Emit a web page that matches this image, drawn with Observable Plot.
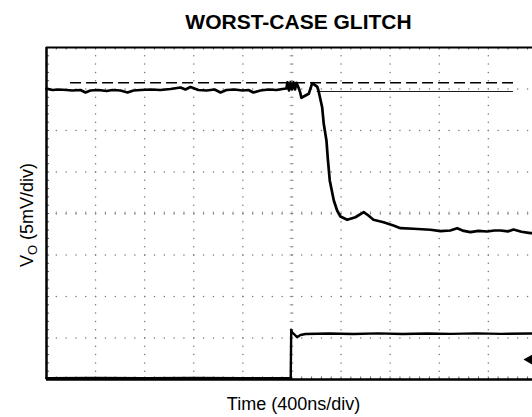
<!DOCTYPE html>
<html><head><meta charset="utf-8">
<script src="https://cdn.jsdelivr.net/npm/d3@7"></script>
<script src="https://cdn.jsdelivr.net/npm/@observablehq/plot@0.6"></script>
<style>body{margin:0;background:#fff;} svg{display:block;}</style>
</head><body><div id="chart"></div>
<script>
// ---- text ----
const title = "WORST-CASE GLITCH";
const xLabel = "Time (400ns/div)";
const yLabelMain = "V", yLabelSub = "O", yLabelRest = " (5mV/div)";

// ---- scope scale ----
const nsPerDiv = 400;   // time per division
const mvPerDiv = 5;     // volts per division
const xDivCount = 10;
const yDivCount = 8;

// ---- output trace (time ns, mV relative to screen centre) ----
const outT = [0, 49, 98, 163, 212, 277, 318, 358, 423, 489, 538, 603, 660, 709, 766, 847, 929, 1010, 1092, 1132, 1173, 1238, 1304, 1369, 1418, 1466, 1532, 1597, 1646, 1686, 1743, 1808, 1874, 1923, 1955, 1963, 1976, 1988, 2000, 2012, 2025, 2037, 2053, 2065, 2077, 2110, 2137, 2165, 2205, 2216, 2246, 2259, 2281, 2292, 2308, 2341, 2368, 2395, 2450, 2517, 2585, 2623, 2664, 2746, 2827, 2884, 2990, 3128, 3210, 3290, 3346, 3400, 3454, 3520, 3590, 3650, 3699, 3760, 3805, 3870, 3943, 3960];
const outV = [15.04, 14.88, 14.94, 14.88, 14.82, 14.88, 14.58, 14.82, 14.88, 14.76, 14.88, 14.82, 14.58, 14.82, 14.88, 14.94, 14.88, 15.00, 15.18, 14.94, 15.24, 14.88, 14.82, 14.94, 14.58, 14.88, 14.94, 14.82, 14.88, 14.58, 14.82, 14.94, 14.88, 15.00, 15.06, 15.79, 14.82, 15.79, 14.94, 15.79, 14.94, 15.73, 15.18, 14.70, 13.94, 14.22, 14.42, 15.70, 15.30, 14.82, 12.81, 10.81, 8.80, 6.63, 3.98, 1.57, 0.36, -0.36, -0.76, -0.45, 0.16, -0.24, -0.76, -1.05, -1.45, -1.77, -1.84, -1.96, -2.13, -2.05, -1.77, -2.10, -2.25, -2.10, -2.17, -2.05, -2.05, -2.15, -1.93, -2.20, -2.37, -2.35];

// ---- reference levels ----
const dashT = [196, 3805], dashV = 15.75;
const solidT = [2205, 3805], solidV = 14.70;

// ---- input step trace ----
const stepT = [0, 400, 800, 1200, 1600, 1990, 1994, 2000, 2012, 2042, 2069, 2110, 2300, 2500, 2700, 2900, 3100, 3300, 3500, 3700, 3960];
const stepV = [-19.85, -19.80, -19.85, -19.80, -19.85, -19.85, -14.0, -14.3, -14.46, -14.9, -14.64, -14.52, -14.46, -14.52, -14.44, -14.52, -14.46, -14.50, -14.44, -14.50, -14.46];

// ---- channel marker ----
const markerT = [3947], markerV = [-17.6];

// ---- graticule structure ----
const tMax = nsPerDiv * xDivCount, vMax = mvPerDiv * yDivCount / 2;
const minorT = d3.range(0, tMax + 1, nsPerDiv / 5);
const minorV = d3.range(-vMax, vMax + 0.001, mvPerDiv / 5);
const majorT = d3.range(1, xDivCount).map(k => k * nsPerDiv);
const majorV = d3.range(-3, 4).map(k => k * mvPerDiv);
const gridDots = [];
for (const t of majorT) for (const v of minorV) gridDots.push({t, v});
for (const v of majorV) for (const t of minorT) gridDots.push({t, v});
const centerT = tMax / 2;

const outData = outT.map((t, i) => ({t, v: outV[i]}));
const stepData = stepT.map((t, i) => ({t, v: stepV[i]}));

const font = "Liberation Sans, Arial, Helvetica, sans-serif";

const plot = Plot.plot({
  width: 532, height: 417,
  marginLeft: 46, marginRight: 0, marginTop: 47, marginBottom: 38,
  style: {fontFamily: font, background: "white", color: "black"},
  x: {domain: [0, 3960], axis: null},
  y: {domain: [-vMax, vMax], axis: null},
  marks: [
    Plot.dot(gridDots, {x: "t", y: "v", r: 0.75, fill: "#777", stroke: null}),
    // centre cross ticks
    Plot.ruleY(minorV, {y: d => d, x1: centerT - 16, x2: centerT + 16, stroke: "#888", strokeWidth: 0.7}),
    Plot.ruleX(minorT, {x: d => d, y1: -0.22, y2: 0.22, stroke: "#888", strokeWidth: 0.7}),
    // edge ticks
    Plot.ruleX(minorT, {x: d => d, y1: vMax, y2: vMax - 0.3, stroke: "#444", strokeWidth: 0.9}),
    Plot.ruleX(minorT, {x: d => d, y1: -vMax, y2: -vMax + 0.3, stroke: "#444", strokeWidth: 0.9}),
    Plot.ruleY(minorV, {y: d => d, x1: 0, x2: 25, stroke: "#444", strokeWidth: 0.9}),
    // frame (left, top, bottom)
    Plot.ruleX([0], {stroke: "black", strokeWidth: 2.5}),
    Plot.ruleY([vMax], {stroke: "black", strokeWidth: 2}),
    Plot.ruleY([-vMax], {stroke: "black", strokeWidth: 2.5}),
    // reference levels
    Plot.ruleY([dashV], {x1: dashT[0], x2: dashT[1], stroke: "black", strokeWidth: 1.6, strokeDasharray: "11,5"}),
    Plot.ruleY([solidV], {x1: solidT[0], x2: solidT[1], stroke: "black", strokeWidth: 0.9}),
    // traces
    Plot.line(stepData, {x: "t", y: "v", stroke: "black", strokeWidth: 2.4, curve: "linear"}),
    Plot.line(outData, {x: "t", y: "v", stroke: "black", strokeWidth: 2.7, curve: "linear"}),
    Plot.dot(markerT.map((t, i) => ({t, v: markerV[i]})), {x: "t", y: "v", symbol: "triangle", rotate: -90, r: 4.8, fill: "black", stroke: null}),
    // titles
    Plot.text([title], {text: d => d, frameAnchor: "top", lineAnchor: "bottom", dy: -19, dx: 9, fontSize: 21, fontWeight: "bold", fill: "black"}),
    Plot.text([xLabel], {text: d => d, frameAnchor: "bottom", lineAnchor: "bottom", dy: 30, dx: 4, fontSize: 18, fill: "black"})
  ]
});

const ylab = d3.select(plot).append("text")
  .attr("transform", "translate(33,215) rotate(-90)")
  .attr("text-anchor", "middle")
  .attr("font-size", 18)
  .attr("font-family", font)
  .attr("fill", "black");
ylab.append("tspan").text(yLabelMain);
ylab.append("tspan").attr("font-size", 13).attr("dy", 4).text(yLabelSub);
ylab.append("tspan").attr("dy", -4).text(yLabelRest);

document.getElementById("chart").appendChild(plot);
</script>
</body></html>
